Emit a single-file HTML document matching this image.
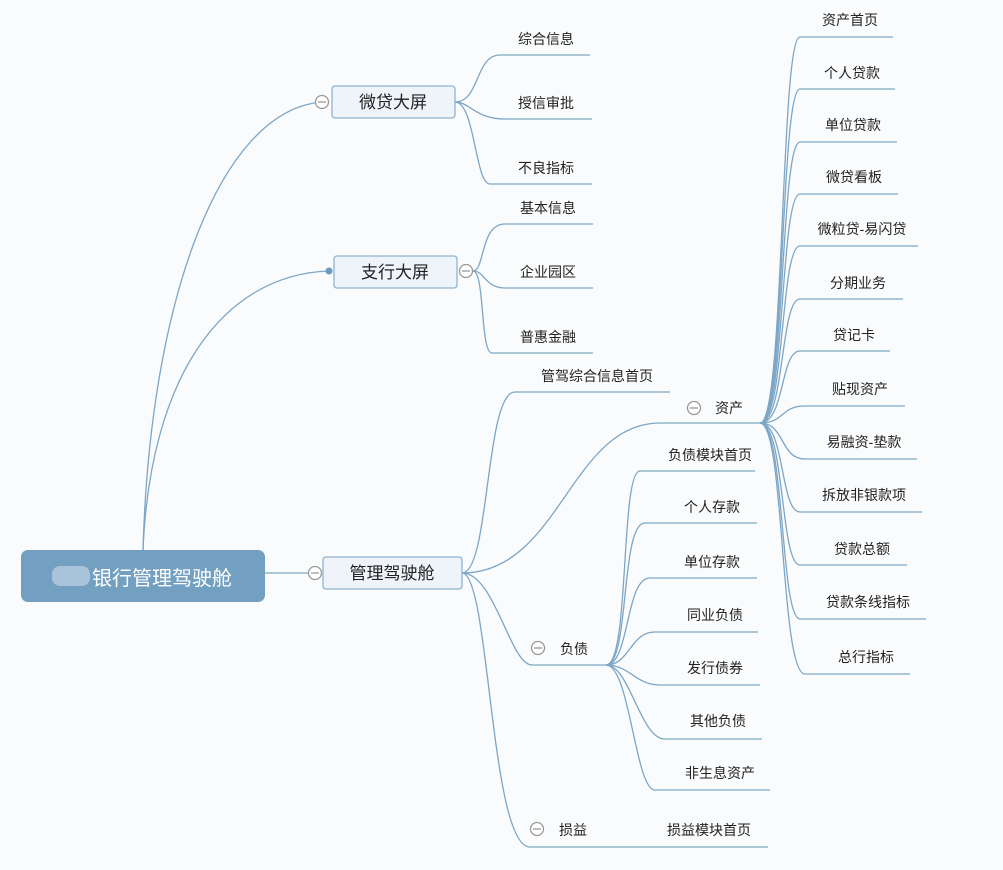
<!DOCTYPE html>
<html><head><meta charset="utf-8"><style>
html,body{margin:0;padding:0;background:#fafbfc;}
svg{display:block;}
text{font-family:"Liberation Sans","Noto Sans CJK SC",sans-serif;fill:#222;}
.l{fill:none;stroke:#7da6c6;stroke-width:1.3;}
.t{font-size:14px;text-anchor:middle;}
.m{font-size:17px;text-anchor:middle;}
.c{fill:#fff;stroke:#999;stroke-width:1.3;}
</style></head><body>
<svg width="1003" height="870" viewBox="0 0 1003 870">
<!-- root connections -->
<path class="l" d="M143,550 C150,300 220,110 322,102"/>
<path class="l" d="M143,550 C150,380 220,275 329,271"/>
<path class="l" d="M265,573 L316,573"/>
<!-- weidai children -->
<path class="l" d="M455,102 C480,102 475,55 500,55 L590,55"/>
<path class="l" d="M455,102 C470,102 475,119 505,119 L592,119"/>
<path class="l" d="M455,102 C475,102 475,184 490,184 L592,184"/>
<!-- zhihang children -->
<path class="l" d="M473,271 C485,271 480,224 505,224 L593,224"/>
<path class="l" d="M473,271 C485,271 485,288 505,288 L593,288"/>
<path class="l" d="M473,271 C485,271 480,353 492,353 L593,353"/>
<!-- guanli children -->
<path class="l" d="M462,573 C490,573 485,392 515,392 L670,392"/>
<path class="l" d="M462,573 C560,573 570,423 660,423 L760,423"/>
<path class="l" d="M462,573 C495,573 510,665 532,665 L606,665"/>
<path class="l" d="M462,573 C490,573 490,847 530,847 L768,847"/>
<!-- zichan fan -->
<g>
<path class="l" d="M760,423 C785,423 780,37 800,37 L893,37"/>
<path class="l" d="M760,423 C785,423 780,89 800,89 L895,89"/>
<path class="l" d="M760,423 C785,423 780,142 800,142 L897,142"/>
<path class="l" d="M760,423 C785,423 780,194 800,194 L898,194"/>
<path class="l" d="M760,423 C785,423 780,246 800,246 L918,246"/>
<path class="l" d="M760,423 C785,423 780,299 800,299 L903,299"/>
<path class="l" d="M760,423 C785,423 780,351 800,351 L890,351"/>
<path class="l" d="M760,423 C785,423 780,406 805,406 L905,406"/>
<path class="l" d="M760,423 C785,423 780,459 805,459 L917,459"/>
<path class="l" d="M760,423 C785,423 780,512 800,512 L922,512"/>
<path class="l" d="M760,423 C785,423 780,565 800,565 L907,565"/>
<path class="l" d="M760,423 C785,423 780,619 800,619 L926,619"/>
<path class="l" d="M760,423 C785,423 780,674 805,674 L910,674"/>
</g>
<!-- fuzhai fan -->
<g>
<path class="l" d="M606,665 C630,665 620,471 640,471 L755,471"/>
<path class="l" d="M606,665 C630,665 620,523 645,523 L757,523"/>
<path class="l" d="M606,665 C630,665 625,578 650,578 L757,578"/>
<path class="l" d="M606,665 C630,665 630,632 655,632 L758,632"/>
<path class="l" d="M606,665 C630,665 635,685 660,685 L760,685"/>
<path class="l" d="M606,665 C630,665 640,739 665,739 L762,739"/>
<path class="l" d="M606,665 C630,665 635,790 655,790 L770,790"/>
</g>
<!-- root -->
<rect x="21" y="550" width="244" height="52" rx="7" fill="#739fc0"/>
<rect x="52" y="566" width="38" height="20" rx="8" fill="#b6cde0" opacity="0.8"/>
<text x="162" y="585" font-size="20" text-anchor="middle" style="fill:#fff">银行管理驾驶舱</text>
<!-- main nodes -->
<rect x="332" y="86" width="123" height="32" rx="3" fill="#eef4f9" stroke="#8fb2cf" stroke-width="1.3"/>
<text class="m" x="393" y="108">微贷大屏</text>
<circle class="c" cx="322" cy="102" r="6.5"/><line x1="318" y1="102" x2="326" y2="102" stroke="#999" stroke-width="1.3"/>
<rect x="334" y="256" width="123" height="32" rx="3" fill="#eef4f9" stroke="#8fb2cf" stroke-width="1.3"/>
<text class="m" x="395" y="278">支行大屏</text>
<circle cx="329" cy="271" r="3.5" fill="#6d9ac0"/>
<circle class="c" cx="466" cy="271" r="6.5"/><line x1="462" y1="271" x2="470" y2="271" stroke="#999" stroke-width="1.3"/>
<rect x="323" y="557" width="139" height="32" rx="3" fill="#eef4f9" stroke="#8fb2cf" stroke-width="1.3"/>
<text class="m" x="392" y="579">管理驾驶舱</text>
<circle class="c" cx="315" cy="573" r="6.5"/><line x1="311" y1="573" x2="319" y2="573" stroke="#999" stroke-width="1.3"/>
<!-- leaf texts -->
<text class="t" x="546" y="44">综合信息</text>
<text class="t" x="546" y="108">授信审批</text>
<text class="t" x="546" y="173">不良指标</text>
<text class="t" x="548" y="213">基本信息</text>
<text class="t" x="548" y="277">企业园区</text>
<text class="t" x="548" y="342">普惠金融</text>
<text class="t" x="597" y="381">管驾综合信息首页</text>
<circle class="c" cx="694" cy="408" r="6.5"/><line x1="690" y1="408" x2="698" y2="408" stroke="#999" stroke-width="1.3"/>
<text class="t" x="729" y="413">资产</text>
<circle class="c" cx="538" cy="648" r="6.5"/><line x1="534" y1="648" x2="542" y2="648" stroke="#999" stroke-width="1.3"/>
<text class="t" x="574" y="654">负债</text>
<circle class="c" cx="537" cy="829" r="6.5"/><line x1="533" y1="829" x2="541" y2="829" stroke="#999" stroke-width="1.3"/>
<text class="t" x="573" y="835">损益</text>
<text class="t" x="709" y="835">损益模块首页</text>
<text class="t" x="850" y="25">资产首页</text>
<text class="t" x="852" y="78">个人贷款</text>
<text class="t" x="853" y="130">单位贷款</text>
<text class="t" x="854" y="182">微贷看板</text>
<text class="t" x="862" y="234">微粒贷-易闪贷</text>
<text class="t" x="858" y="288">分期业务</text>
<text class="t" x="854" y="340">贷记卡</text>
<text class="t" x="860" y="394">贴现资产</text>
<text class="t" x="864" y="447">易融资-垫款</text>
<text class="t" x="864" y="500">拆放非银款项</text>
<text class="t" x="862" y="554">贷款总额</text>
<text class="t" x="868" y="607">贷款条线指标</text>
<text class="t" x="866" y="662">总行指标</text>
<text class="t" x="710" y="460">负债模块首页</text>
<text class="t" x="712" y="512">个人存款</text>
<text class="t" x="712" y="567">单位存款</text>
<text class="t" x="715" y="620">同业负债</text>
<text class="t" x="715" y="673">发行债券</text>
<text class="t" x="718" y="726">其他负债</text>
<text class="t" x="720" y="778">非生息资产</text>
</svg>
</body></html>
